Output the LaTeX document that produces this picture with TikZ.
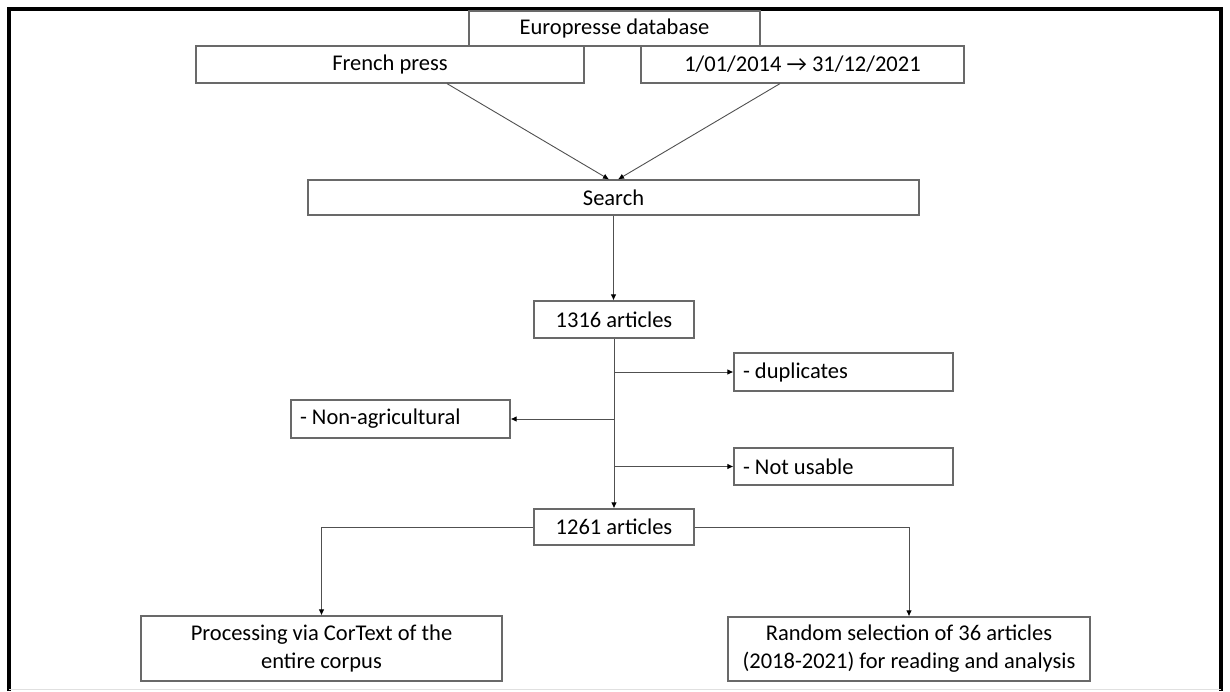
\documentclass[tikz,border=0pt]{standalone}
\usepackage{fontspec}
\setmainfont{Carlito}
\usetikzlibrary{arrows.meta,calc}
\definecolor{boxline}{RGB}{105,105,105}
\definecolor{conline}{RGB}{80,80,80}
\begin{document}
\begin{tikzpicture}[x=1pt,y=-1pt,
  box/.style={draw=boxline,line width=1.2pt,inner sep=0pt,minimum width=#1,font=\fontsize{22.5}{28}\selectfont,align=center},
  con/.style={draw=conline,line width=0.9pt},
  arr/.style={con,-{Latex[length=6pt,width=5.5pt,color=black]}}]
\useasboundingbox (0,0) rectangle (1230,691);
% frame
\draw[black,line width=3.2pt] (9,691) -- (9,9) -- (1221,9) -- (1221,691);
\draw[black!12,line width=1pt] (9,689.5) -- (1221,689.5);
% nodes
\node[box=291pt,minimum height=35pt] (euro) at (614.5,28.5) {Europresse database};
\node[box=388pt,minimum height=37pt] (french) at (390,64.5) {French press};
\node[box=323pt,minimum height=37pt] (date) at (802.5,64.5) {1/01/2014 → 31/12/2021};
\node[box=611pt,minimum height=35pt] (search) at (613.5,197.5) {Search};
\node[box=160pt,minimum height=37pt] (a1316) at (614,319.5) {1316 articles};
\node[box=219pt,minimum height=38pt] (dup) at (843.5,372) {\makebox[201pt][l]{- duplicates}};
\node[box=219pt,minimum height=38pt] (nonag) at (400.5,419) {\makebox[201pt][l]{- Non-agricultural}};
\node[box=219pt,minimum height=37pt] (notus) at (843.5,466.5) {\makebox[201pt][l]{- Not usable}};
\node[box=160pt,minimum height=36pt] (a1261) at (614,527) {1261 articles};
\node[box=361pt,minimum height=65pt] (proc) at (321.5,648.5) {Processing via CorText of the\\entire corpus};
\node[box=362pt,minimum height=64pt] (rand) at (909,649) {Random selection of 36 articles\\(2018-2021) for reading and analysis};
% connectors
\draw[arr] ([xshift=57pt]french.south) -- ([xshift=-4.5pt]search.north);
\draw[arr] ([xshift=-22.5pt]date.south) -- ([xshift=4.5pt]search.north);
\draw[arr] (search.south) -- (search.south |- a1316.north);
\draw[arr] (a1316.south) -- (a1261.north);
\draw[arr] (a1316.south |- dup.west) -- (dup.west);
\draw[arr] (a1316.south |- nonag.east) -- (nonag.east);
\draw[arr] (a1316.south |- notus.west) -- (notus.west);
\draw[arr] (a1261.west) -| (proc.north);
\draw[arr] (a1261.east) -| (rand.north);
\end{tikzpicture}
\end{document}
